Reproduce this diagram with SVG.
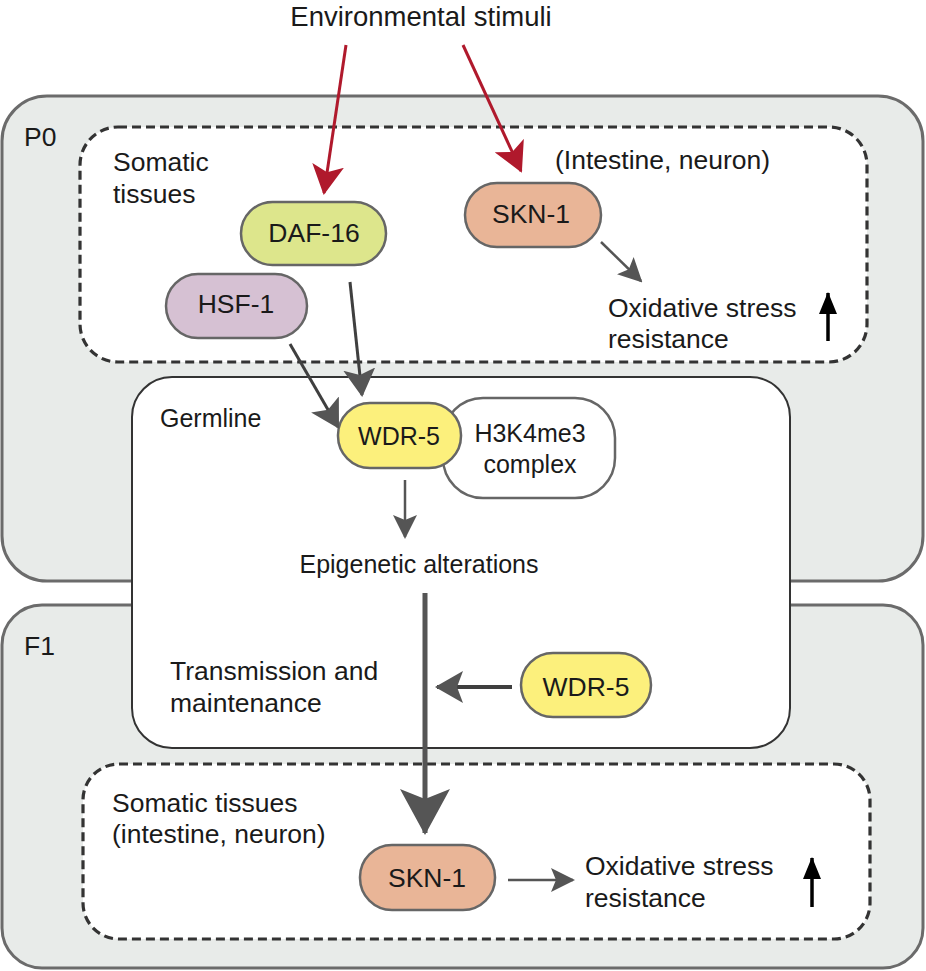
<svg xmlns="http://www.w3.org/2000/svg" width="926" height="971" viewBox="0 0 926 971">
<style>
  text { font-family: "Liberation Sans", Arial, sans-serif; font-size: 26.5px; fill: #1a1a1a; }
  .mid { text-anchor: middle; }
  .sm { font-size: 25px; }
  .panel { fill: #e8ebe9; stroke: #6b6b6b; stroke-width: 3; }
  .dash { fill: #ffffff; stroke: #333333; stroke-width: 3.2; stroke-dasharray: 9 5; }
  .germ { fill: #ffffff; stroke: #333333; stroke-width: 2; }
  .node { stroke: #666666; stroke-width: 2.5; }
  .red { stroke: #b0192c; stroke-width: 3; fill: none; }
  .gray { stroke: #3f3f3f; stroke-width: 3; fill: none; }
  .gray2 { stroke: #555555; stroke-width: 2.5; fill: none; }
  .blk { stroke: #000000; stroke-width: 3.5; fill: none; }
</style>
<defs>
  <marker id="hRed" markerUnits="userSpaceOnUse" viewBox="0 0 30 32" markerWidth="30" markerHeight="32" refX="28" refY="16" orient="auto">
    <path d="M0,0 L30,16 L0,32 L7,16 z" fill="#b0192c"/>
  </marker>
  <marker id="hGrayL" markerUnits="userSpaceOnUse" viewBox="0 0 28 32" markerWidth="28" markerHeight="32" refX="26" refY="16" orient="auto">
    <path d="M0,0 L28,16 L0,32 L6,16 z" fill="#555555"/>
  </marker>
  <marker id="hGrayS" markerUnits="userSpaceOnUse" viewBox="0 0 24 24" markerWidth="24" markerHeight="24" refX="22" refY="12" orient="auto">
    <path d="M0,0 L24,12 L0,24 L5,12 z" fill="#555555"/>
  </marker>
  <marker id="hBig" markerUnits="userSpaceOnUse" viewBox="0 0 46 50" markerWidth="46" markerHeight="50" refX="44" refY="25" orient="auto">
    <path d="M0,0 L46,25 L0,50 L10,25 z" fill="#555555"/>
  </marker>
  <marker id="hBlk" markerUnits="userSpaceOnUse" viewBox="0 0 22 18" markerWidth="22" markerHeight="18" refX="21" refY="9" orient="auto">
    <path d="M0,0 L22,9 L0,18 z" fill="#000000"/>
  </marker>
</defs>

<g id="panel-P0">
  <rect class="panel" x="2" y="96" width="921" height="485" rx="45"/>
  <text x="24" y="146">P0</text>
</g>
<g id="panel-F1">
  <rect class="panel" x="2" y="605" width="921" height="363" rx="40"/>
  <text x="24" y="655">F1</text>
</g>

<g id="somatic-P0">
  <rect class="dash" x="80" y="127" width="787" height="235" rx="38"/>
  <text x="113" y="171">Somatic</text>
  <text x="113" y="203">tissues</text>
  <text x="555" y="169">(Intestine, neuron)</text>
</g>
<g id="somatic-F1">
  <rect class="dash" x="83" y="764" width="787" height="175" rx="36"/>
  <text x="112" y="812">Somatic tissues</text>
  <text x="112" y="843">(intestine, neuron)</text>
</g>

<g id="germline">
  <rect class="germ" x="132" y="377" width="658" height="371" rx="40"/>
  <text class="sm" x="160" y="427">Germline</text>
  <text x="170" y="680">Transmission and</text>
  <text x="170" y="712">maintenance</text>
</g>

<g id="title">
  <text class="mid" x="421" y="26" style="font-size:27.5px">Environmental stimuli</text>
</g>

<g id="daf16">
  <rect class="node" x="241" y="202" width="145" height="63" rx="31.5" fill="#dde68c"/>
  <text class="mid" x="314" y="242">DAF-16</text>
</g>
<g id="hsf1">
  <rect class="node" x="166" y="274" width="141" height="64" rx="32" fill="#d6c1d3"/>
  <text class="mid" x="236" y="313">HSF-1</text>
</g>
<g id="skn1-P0">
  <rect class="node" x="465" y="183" width="136" height="64" rx="32" fill="#e9b597"/>
  <text class="mid" x="531" y="223">SKN-1</text>
</g>
<g id="oxidative-P0">
  <text x="608" y="317">Oxidative stress</text>
  <text x="608" y="348">resistance</text>
</g>
<g id="h3k4me3">
  <rect class="node" x="443" y="398" width="172" height="100" rx="40" fill="#ffffff"/>
  <text class="mid sm" x="530" y="442">H3K4me3</text>
  <text class="mid sm" x="530" y="473">complex</text>
</g>
<g id="wdr5-P0">
  <rect class="node" x="338" y="403" width="123" height="65" rx="32" fill="#fcf07c"/>
  <text class="mid sm" x="399" y="445">WDR-5</text>
</g>
<g id="epigenetic">
  <text class="mid sm" x="419" y="573">Epigenetic alterations</text>
</g>
<g id="wdr5-F1">
  <rect class="node" x="521" y="653" width="130" height="64" rx="32" fill="#fcf07c"/>
  <text class="mid" x="586" y="696">WDR-5</text>
</g>
<g id="skn1-F1">
  <rect class="node" x="360" y="845" width="135" height="65" rx="32" fill="#e9b597"/>
  <text class="mid" x="427" y="887">SKN-1</text>
</g>
<g id="oxidative-F1">
  <text x="585" y="875">Oxidative stress</text>
  <text x="585" y="907">resistance</text>
</g>

<g id="connectors">
  <line class="red" x1="346" y1="45" x2="324" y2="193" marker-end="url(#hRed)"/>
  <line class="red" x1="463" y1="45" x2="521" y2="171" marker-end="url(#hRed)"/>
  <line class="gray" x1="350" y1="282" x2="362" y2="395" marker-end="url(#hGrayL)"/>
  <line class="gray" x1="290" y1="344" x2="338" y2="427" marker-end="url(#hGrayL)"/>
  <line class="gray2" x1="601" y1="242" x2="641" y2="281" marker-end="url(#hGrayS)"/>
  <line class="gray2" x1="405" y1="480" x2="405" y2="537" marker-end="url(#hGrayS)"/>
  <line class="blk" x1="828" y1="341" x2="828" y2="293" marker-end="url(#hBlk)"/>
  <line stroke="#555555" stroke-width="5" x1="425" y1="593" x2="425" y2="833" marker-end="url(#hBig)"/>
  <line stroke="#3f3f3f" stroke-width="4" x1="512" y1="687" x2="437" y2="687" marker-end="url(#hGrayL)"/>
  <line class="gray2" x1="508" y1="880" x2="573" y2="880" marker-end="url(#hGrayS)"/>
  <line class="blk" x1="812" y1="907" x2="812" y2="858" marker-end="url(#hBlk)"/>
</g>
</svg>
